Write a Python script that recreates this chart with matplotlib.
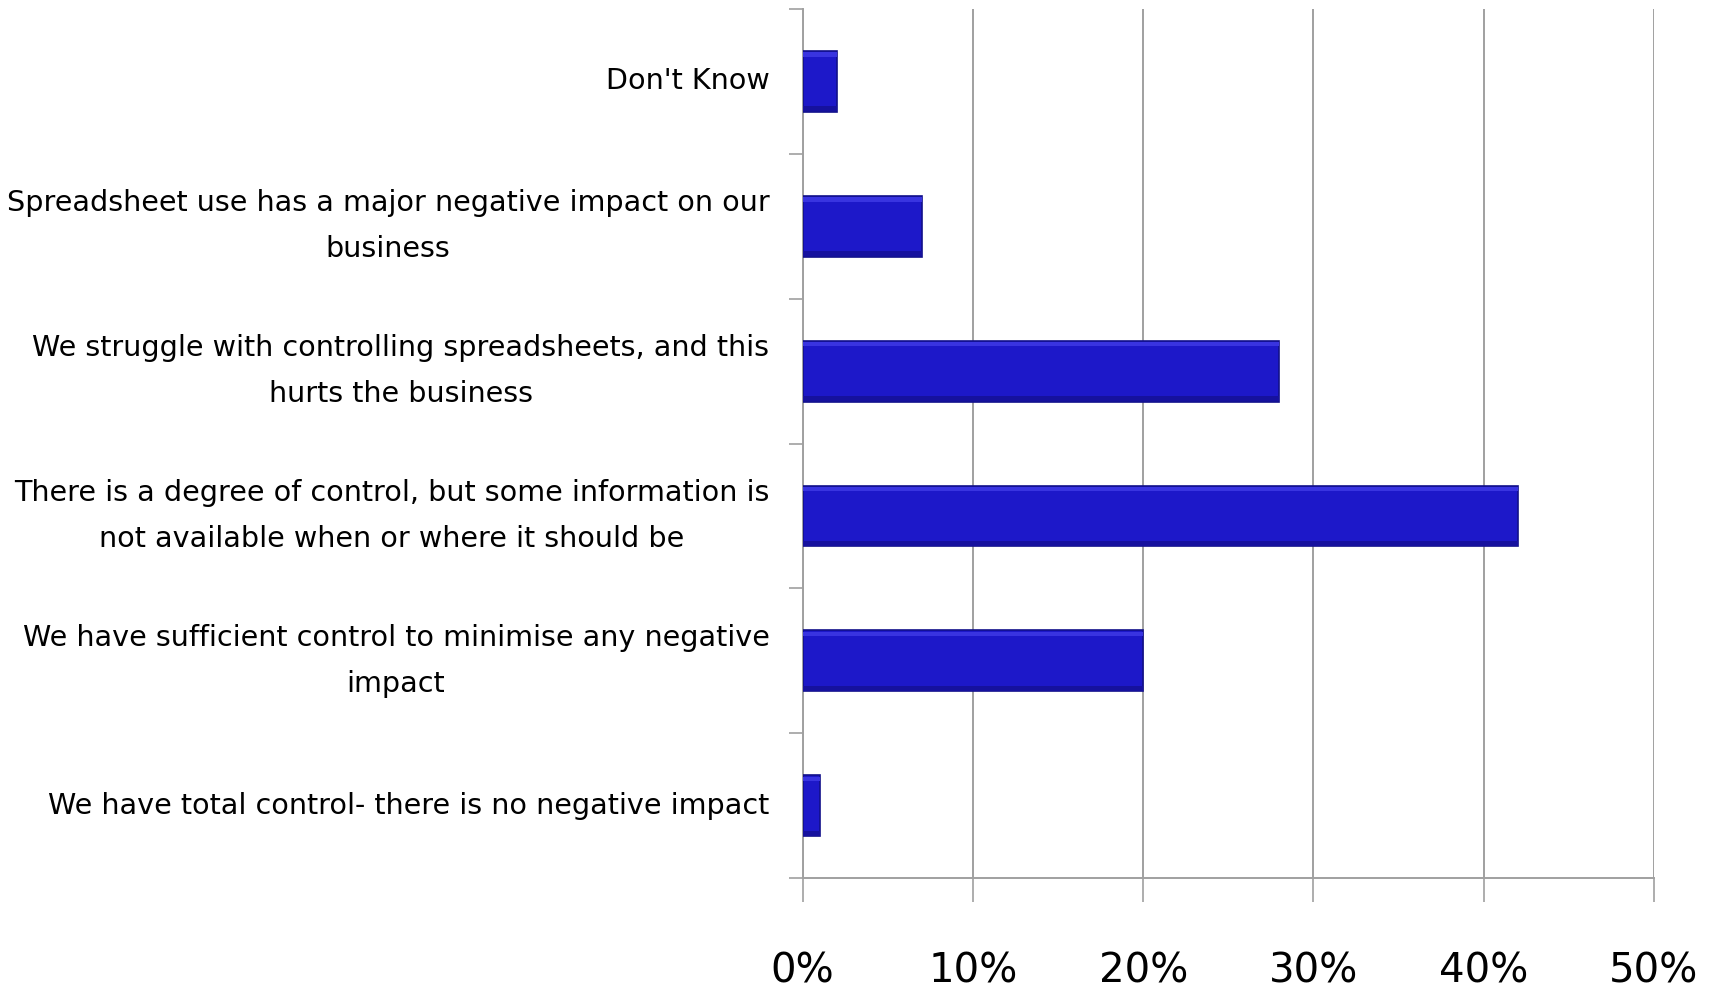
import numpy as np
import matplotlib
matplotlib.use("Agg")
import matplotlib.pyplot as plt
from matplotlib.ticker import FixedLocator, PercentFormatter

categories = [
    "We have total control- there is no negative impact",
    "We have sufficient control to minimise any negative\nimpact",
    "There is a degree of control, but some information is\nnot available when or where it should be",
    "We struggle with controlling spreadsheets, and this\nhurts the business",
    "Spreadsheet use has a major negative impact on our\nbusiness",
    "Don't Know",
]
values = [1, 20, 42, 28, 7, 2]
x_ticks = [0, 10, 20, 30, 40, 50]

BAR = "#1d18c9"
EDGE = "#12108a"
GRID = "#a0a0a0"

fig = plt.figure(figsize=(17.16, 9.89), dpi=100, facecolor="white")
ax = fig.add_axes([0.4678, 0.112, 0.496, 0.879])

y = np.arange(len(categories))
ax.barh(y, values, height=0.42, color=BAR, edgecolor=EDGE, lw=1.2, zorder=3)
# thin lighter strip on top and darker one at the bottom, for a bevel look
ax.barh(y + 0.185, values, height=0.03, color="#3934e0", lw=0, zorder=4)
ax.barh(y - 0.19, values, height=0.035, color="#16119e", lw=0, zorder=4)

ax.set_xlim(0, 50)
ax.set_ylim(-0.5, len(categories) - 0.5)

ax.set_yticks(y)
ax.set_yticklabels(categories, fontsize=20.6, multialignment="center",
                   linespacing=1.8, va="center")
ax.yaxis.set_minor_locator(FixedLocator(np.arange(-0.5, len(categories), 1.0)))
ax.tick_params(axis="y", which="major", length=0, pad=24)
ax.tick_params(axis="y", which="minor", length=10, width=1.2, color=GRID,
               direction="out")

ax.set_xticks(x_ticks)
ax.xaxis.set_major_formatter(PercentFormatter(decimals=0))
ax.tick_params(axis="x", length=17, width=1.2, color=GRID, direction="out",
               labelsize=29, pad=36)

ax.grid(True, axis="x", color=GRID, lw=1.4, zorder=0)
for side in ("top", "right"):
    ax.spines[side].set_visible(False)
for side in ("left", "bottom"):
    ax.spines[side].set_color(GRID)
    ax.spines[side].set_linewidth(1.4)

fig.savefig("out.png", dpi=100, facecolor="white")
